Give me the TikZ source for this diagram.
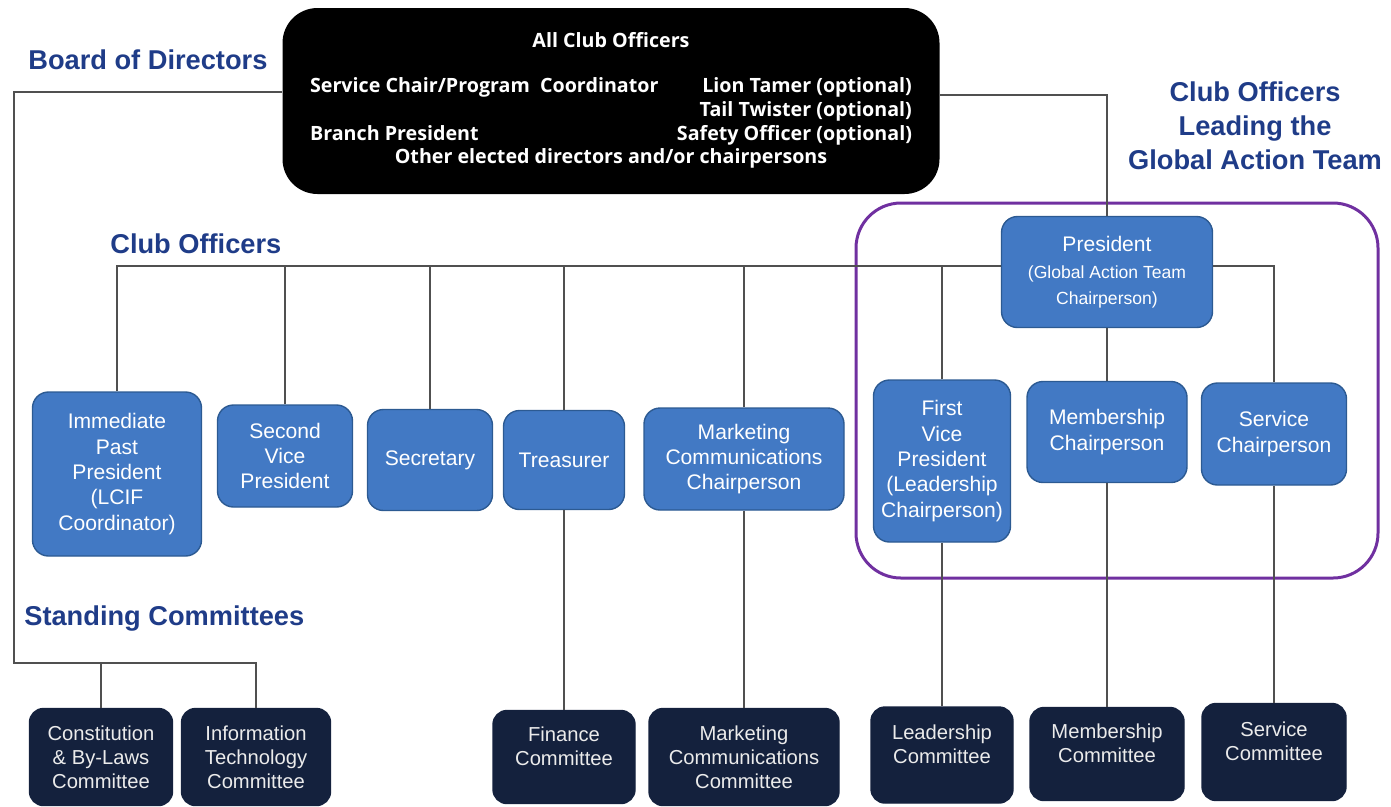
\documentclass[tikz,border=0pt]{standalone}
\usepackage{fontspec}
\setmainfont{Liberation Sans}
\newfontfamily\boardfont{Open Sans}
\definecolor{offblue}{HTML}{4279C4}
\definecolor{offedge}{HTML}{2C5A92}
\definecolor{cmtnavy}{HTML}{14213D}
\definecolor{headblue}{HTML}{1F3C88}
\definecolor{teampurple}{HTML}{7030A0}
\definecolor{linkgray}{HTML}{505050}
\def\U{0.02cm}
\newcommand*{\smalltxt}{\fontsize{10}{12}\selectfont}
\tikzset{
      wh/.style 2 args = { minimum width=#1*\U, minimum height=#2*\U },
   officer/.style = { draw=offedge, fill=offblue, text=white, line width=0.8pt,
                      rounded corners=0.32cm, align=center, inner sep=2pt,
                      font=\fontsize{12}{14.4}\selectfont },
 committee/.style = { draw=cmtnavy, fill=cmtnavy, text=black!8, line width=0.8pt,
                      rounded corners=0.28cm, align=center, inner sep=2pt,
                      font=\fontsize{11.5}{13.7}\selectfont },
    lifted/.style = { text depth=0.45cm },
     board/.style = { fill=black, text=white, rounded corners=0.7cm,
                      font=\boardfont\bfseries\fontsize{11.2}{13.5}\selectfont },
   heading/.style = { text=headblue, align=center, inner sep=0pt,
                      font=\fontsize{15.5}{19.3}\selectfont\bfseries },
      link/.style = { draw=linkgray, line width=1.1pt },
      team/.style = { draw=teampurple, line width=1.7pt, rounded corners=0.9cm }
}

\begin{document}
\begin{tikzpicture}[x=0.02cm, y=-0.02cm]
  \useasboundingbox (0,0) rectangle (1391,806);

  % board of directors
  \node[board, wh={657}{186}] (board) at (611,101) {%
    \begin{tabular*}{12.04cm}{@{}l@{\extracolsep{\fill}}r@{}}
      \multicolumn{2}{c}{All Club Officers}\\[12pt]
      Service Chair/Program\ \ Coordinator & Lion Tamer (optional)\\
       & Tail Twister (optional)\\
      Branch President & Safety Officer (optional)\\
      \multicolumn{2}{c}{Other elected directors and/or chairpersons}
    \end{tabular*}};

  \node[heading, anchor=west] (bod) at (28,60) {Board of Directors};
  \node[heading, anchor=west] (cof) at (110,244) {Club Officers};
  \node[heading] (gat) at (1255,126) {Club Officers\\Leading the\\Global Action Team};
  \node[heading, anchor=west] (stc) at (24,618) {Standing Committees};

  \draw[team] (856,203) rectangle (1378,578);

  % club officers
  \node[officer, wh={169}{164}] (ipp) at (117,474) {Immediate\\Past\\President\\(LCIF\\Coordinator)};
  \node[officer, wh={135}{102}] (svp) at (285,456) {Second\\Vice\\President};
  \node[officer, wh={125}{101}] (secr) at (430,460) {Secretary};
  \node[officer, wh={121}{99}] (treas) at (564,460) {Treasurer};
  \node[officer, wh={200}{102}] (mktg) at (744,459) {Marketing\\Communications\\Chairperson};
  \node[officer, wh={211}{111}] (pres) at (1107,272)
    {President\\[1pt]\smalltxt(Global Action Team\\\smalltxt Chairperson)};
  \node[officer, wh={137}{162}] (fvp) at (942,461) {First\\Vice\\President\\(Leadership\\Chairperson)};
  \node[officer, wh={160}{101}] (memb) at (1107,432) {Membership\\Chairperson};
  \node[officer, wh={145}{102}] (serv) at (1274,434) {Service\\Chairperson};

  % standing committees
  \node[committee, wh={143}{97}] (conc) at (101,757) {Constitution\\\& By-Laws\\Committee};
  \node[committee, wh={149}{97}] (itc) at (256,757) {Information\\Technology\\Committee};
  \node[committee, wh={142}{93}, lifted] (finc) at (564,757) {Finance\\Committee};
  \node[committee, wh={190}{97}] (mktc) at (744,757) {Marketing\\Communications\\Committee};
  \node[committee, wh={142}{96}, lifted] (leadc) at (942,755) {Leadership\\Committee};
  \node[committee, wh={154}{93}, lifted] (membc) at (1107,754) {Membership\\Committee};
  \node[committee, wh={144}{97}, lifted] (servc) at (1274,752) {Service\\Committee};

  \coordinate (bdl) at (14,92);
  \coordinate (bdr) at (1107,95);
  \coordinate (col) at (117,266);
  \coordinate (stl) at (14,663);

  \draw[link] (board.west |- bdl) -- (bdl) -- (stl) -- (stl -| itc.north) -- (itc.north);
  \draw[link] (conc.north) -- (conc.north |- stl);
  \draw[link] (board.east |- bdr) -- (bdr) -- (pres.north);
  \draw[link] (pres.west |- col) -- (col) -- (ipp.north);
  \foreach \n in {svp,secr,treas,mktg,fvp} {
    \draw[link] (\n.north) -- (\n.north |- col);
  }
  \draw[link] (pres.east |- col) -| (serv.north);
  \draw[link] (pres.south) -- (memb.north);
  \foreach \a/\b in {treas/finc, mktg/mktc, fvp/leadc, memb/membc, serv/servc} {
    \draw[link] (\a.south) -- (\b.north);
  }
\end{tikzpicture}
\end{document}
